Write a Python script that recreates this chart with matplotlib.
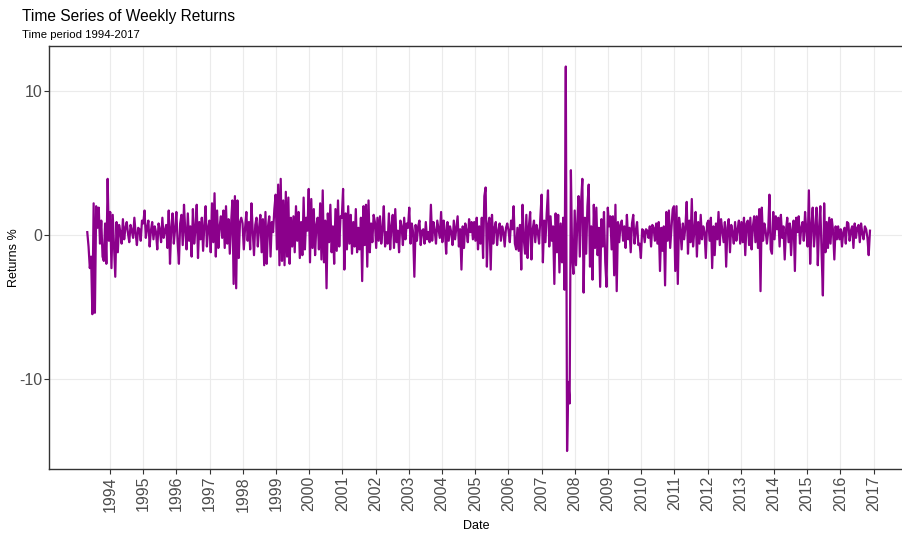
import matplotlib
matplotlib.use("Agg")
import matplotlib.pyplot as plt
import matplotlib.dates as mdates
import numpy as np
import pandas as pd
import datetime as dt

# weekly returns (%) at roughly two-week steps
r1993 = [0.2, -0.8, -2.3, -1.5, -5.5, 2.2, -5.4, 2.0, 0.5, 1.9, -0.6, 1.0, -1.5, -1.8, 0.8, -2.0, 3.9, -0.4]
r1994 = [1.6, -2.3, 1.4, -0.8, -2.9, 0.9, -1.2, 0.7, 0.2, -0.6, 1.1, -0.3, 0.5, 0.9, 0.1, -0.5, 0.7, 0.3, -0.2, 1.2, 0.1, -0.7, 0.5, 0.4, -0.4, 1.0]
r1995 = [0.8, 1.7, -0.2, 0.5, 1.0, -0.8, 0.3, 0.9, -0.3, 0.6, 0.2, -1.0, 0.8, 0.4, -0.5, 1.2, -0.2, 0.3, 0.7, -0.9, 1.7, -2.0, 0.5, 1.5, -0.6, 0.4]
r1996 = [1.6, -0.5, -2.0, 0.8, 1.4, -0.7, 2.1, 0.3, -1.0, 1.5, -0.4, 0.6, -1.5, 1.8, -0.6, 0.4, 2.1, -1.6, 0.9, -0.3, 1.2, -1.1, 0.7, 2.0, -0.8, 0.5]
r1997 = [1.0, -1.2, 2.2, -0.5, 2.9, -1.5, 1.7, -0.9, 0.6, 1.3, -0.2, 1.7, -0.9, 2.0, -0.6, 1.1, -1.3, 0.8, 2.4, -3.4, 2.7, -3.7, 2.4, -1.6, 0.9, 1.2]
r1998 = [0.8, -1.0, 0.5, 1.6, -0.4, 0.9, -1.0, 2.2, 0.3, -1.4, 0.7, 1.2, -0.8, 0.5, 1.4, -1.2, 1.1, -2.1, 1.6, -2.0, 0.6, 1.3, -1.5, 0.9, 0.2, 1.8]
r1999 = [2.8, -1.0, 3.5, -2.1, 3.9, -1.8, 2.4, -2.1, 3.0, -1.5, 2.6, -2.0, 1.2, -0.8, 1.3, -1.2, 2.0, -0.4, 1.6, -1.6, 0.9, -1.4, 2.6, -1.0, 1.2, 0.3]
r2000 = [3.2, -1.9, 2.5, -0.9, 1.8, -1.4, 0.7, 1.2, -1.0, 2.2, -1.7, 3.1, -1.9, 1.0, -3.7, 1.5, -0.5, 2.1, -1.2, 0.6, -2.0, 1.8, -1.1, 2.4, -0.8, 1.3]
r2001 = [1.2, 3.2, -2.4, 1.5, -1.0, 2.0, -0.6, 1.4, -1.3, 0.9, -0.8, 1.8, -1.2, 0.5, -1.0, 1.2, -3.2, 2.0, -0.7, 2.1, -2.2, 2.4, -1.2, 0.8, -0.5, 1.4]
r2002 = [0.9, -0.9, 1.2, -0.4, 1.3, -0.6, 0.4, 2.0, -0.8, 0.2, -0.6, 1.5, -1.0, 0.6, 1.4, -0.9, 1.8, -0.5, 0.3, -1.2, 1.0, 0.6, -0.7, 1.2, -0.3, 0.8]
r2003 = [0.5, 1.9, -0.6, 0.8, 0.2, -2.9, 0.7, -0.4, 0.6, 1.0, -0.7, 0.3, 0.4, -0.6, 0.9, -0.3, 0.2, -0.5, 2.1, -0.4, 0.9, 0.3, -0.6, 1.0, 0.4, -0.2]
r2004 = [1.6, -0.5, 1.0, 0.3, -1.3, 0.9, -0.4, 0.6, 0.2, -0.7, 1.0, -0.3, 0.5, 1.3, -0.8, 0.4, -2.4, 0.6, -0.9, 0.8, 0.3, -0.5, 1.1, 0.2, 0.9, -0.3]
r2005 = [0.9, -0.4, 1.2, -1.0, 0.6, -0.6, 1.2, -1.6, 2.7, 3.3, -2.2, 0.7, 1.2, -2.4, 1.4, -0.6, 0.5, 0.9, -0.7, 0.3, 0.8, -0.4, 0.6, 0.2, -0.8, 0.5]
r2006 = [0.8, 0.3, -0.5, 1.0, 0.4, 2.0, -0.6, -1.0, 0.5, -1.1, 0.7, -2.4, 2.1, -0.3, -1.3, 1.4, -1.6, 0.6, 1.6, -1.7, 0.4, 1.0, -0.5, 0.7, 0.2, -0.6]
r2007 = [1.2, 2.8, -1.9, 1.0, -0.5, 1.5, 3.1, -0.8, 1.3, -0.4, 0.6, -3.4, 1.5, -1.2, 1.4, -2.6, 0.8, -1.9, 1.2, -3.8, 11.7, -15.0, -10.2, -11.7, 4.5, -1.5]
r2008 = [-2.7, 1.7, -2.1, 0.8, 2.7, -1.5, 2.3, 3.9, -4.0, 1.2, -1.3, 2.0, 3.5, -2.2, 0.6, -3.1, 2.1, -0.9, 1.9, -1.4, 0.5, -3.6, 1.1, -0.8, 1.6, -1.9]
r2009 = [-3.6, 1.9, 0.6, 1.3, -1.0, 1.3, -2.8, 2.1, -3.9, 0.9, -0.5, 0.7, 1.0, -0.4, 0.6, -0.9, 1.4, -0.3, 0.5, -1.2, 0.8, 1.4, -0.6, 0.3, 0.9, -0.7]
r2010 = [-0.6, -1.6, 0.4, 0.3, -0.5, 0.4, 0.3, -0.2, 0.6, -0.8, 0.7, 0.5, -0.4, 0.8, -0.6, 0.9, -2.5, 0.5, -1.1, 0.6, -3.5, 1.6, -0.4, 1.7, -0.9, 0.5]
r2011 = [1.8, 2.0, -2.5, 2.0, -3.4, 1.2, 0.4, -1.0, 0.8, -0.3, 0.6, 2.3, -1.3, 1.0, -0.5, 2.5, -0.8, 0.3, 1.6, -1.5, 0.9, -0.6, 1.4, -0.3, 0.6, 0.2]
r2012 = [-1.6, 0.8, 1.0, -0.4, 1.2, -2.3, 0.6, -1.4, 0.8, -0.3, 1.6, -0.7, 1.1, 0.3, -0.5, 0.9, -2.2, 0.5, 1.1, -1.2, 0.7, 0.2, -0.6, 0.9, -0.4, 0.4]
r2013 = [1.0, -0.6, 0.9, -0.5, 1.2, -1.4, 0.8, 1.0, -0.7, 1.2, -1.0, 0.6, 1.3, -0.5, 1.3, -0.9, 1.8, -3.9, 1.9, -0.4, 0.8, 0.3, -0.6, 0.2, 2.8, -1.0]
r2014 = [-1.3, 1.6, -0.3, 1.3, 0.4, 1.2, -0.8, 1.4, -0.2, 0.6, -1.7, 0.3, 1.2, -0.5, 0.8, -1.4, 0.4, 1.0, -2.5, 1.2, 0.2, 1.3, -0.6, 0.5, 0.9, -0.4]
r2015 = [1.6, 0.3, -0.8, 3.1, -2.0, 0.6, 1.9, -0.8, 0.4, 1.9, -2.1, 0.5, 2.0, -1.3, -4.2, 2.2, -1.2, 0.9, -0.9, 1.2, -0.6, 1.1, 0.3, -1.7, 0.6, -0.3]
r2016 = [0.6, -0.3, 0.4, -0.8, 0.2, 0.5, -0.6, 0.9, 0.8, -0.4, 0.3, 0.6, -0.9, 0.8, -0.2, 0.5, 0.7, -0.5, 0.8, 0.1, -0.3, 0.6, 0.4, -0.2, -1.4, 0.3]

years = list(range(1994, 2018))
year_labels = [str(y) for y in years]

returns = (r1993 + r1994 + r1995 + r1996 + r1997 + r1998 + r1999 + r2000 + r2001
           + r2002 + r2003 + r2004 + r2005 + r2006 + r2007 + r2008 + r2009 + r2010
           + r2011 + r2012 + r2013 + r2014 + r2015 + r2016)
dates = pd.date_range("1993-04-26", periods=len(returns), freq="14D")

plt.rcParams["font.family"] = ["Liberation Sans", "DejaVu Sans"]

fig = plt.figure(figsize=(9.03, 5.36), dpi=100)
W, H = 903, 536
left_px, right_px, top_px, bot_px = 49, 903, 46, 469
ax = fig.add_axes([left_px / W, 1 - bot_px / H, (right_px - left_px) / W, (bot_px - top_px) / H])

ax.plot(dates, returns, color="#8B008B", lw=1.6)

# x scale: 1994 tick at px 110, 2017 tick at px 873.7
d0 = mdates.date2num(dt.date(1994, 1, 1))
d1 = mdates.date2num(dt.date(2017, 1, 1))
ppd = (873.7 - 110) / (d1 - d0)
ax.set_xlim(d0 - (110 - left_px) / ppd, d0 + (right_px - 110) / ppd)
ax.set_ylim(-(bot_px - 235) / 14.4, (235 - top_px) / 14.4)

ax.set_xticks([dt.date(y, 1, 1) for y in years])
ax.set_xticklabels(year_labels, rotation=90, fontsize=11.5, color="#4D4D4D")
ax.set_yticks([-10, 0, 10])
ax.set_yticklabels(["-10", "0", "10"], fontsize=11.5, color="#4D4D4D")
ax.tick_params(axis="both", length=3.5, color="#333333", width=0.8, pad=1.5)

ax.grid(True, color="#EBEBEB", lw=0.8)
ax.set_axisbelow(True)
for s in ["left", "bottom", "top"]:
    ax.spines[s].set_color("#333333")
    ax.spines[s].set_linewidth(1.0)
ax.spines["right"].set_visible(False)

ax.set_xlabel("Date", fontsize=9, labelpad=6)
fig.text(14 / W, 1 - 258 / H, "Returns %", fontsize=9, rotation=90, va="center", ha="center")

fig.text(22 / W, 1 - 16 / H, "Time Series of Weekly Returns", fontsize=11.2, va="center", ha="left")
fig.text(22 / W, 1 - 35 / H, "Time period 1994-2017", fontsize=8.2, va="center", ha="left")

fig.savefig("out.png", dpi=100)
